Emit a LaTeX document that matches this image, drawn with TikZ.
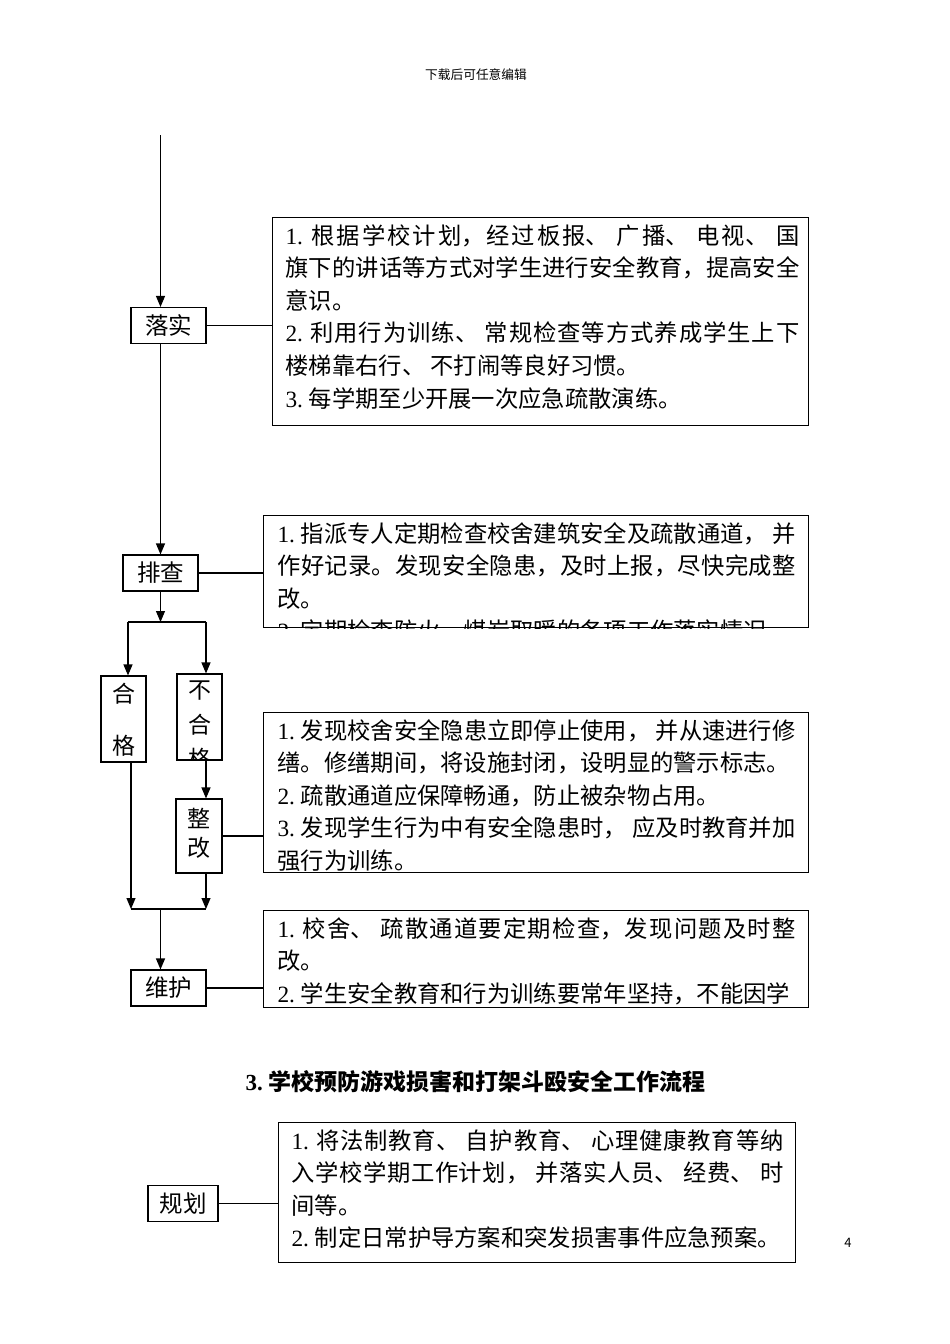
\documentclass[tikz,border=0pt]{standalone}
\usepackage{fontspec}
\setmainfont{Noto Sans CJK SC}
\newfontfamily\numfont{Liberation Serif}
\usetikzlibrary{arrows.meta}
\XeTeXlinebreaklocale "zh"
\XeTeXlinebreakskip=0pt plus 2pt
\newcommand\itemno[1]{\par\noindent{\numfont#1\ }}
\begin{document}
\begin{tikzpicture}[x=1pt,y=-1pt,line width=1.1pt,
    >={Triangle[length=11pt,width=9pt]},
    lbl/.style={draw,inner sep=0pt,minimum width=75pt,minimum height=36pt,
      font=\fontsize{23.5}{24}\selectfont},
    vlbl/.style={draw,inner sep=0pt,minimum width=45pt},
    vchar/.style={inner sep=0pt,font=\fontsize{23}{23}\selectfont},
    infobox/.style={draw,inner sep=0pt,anchor=north west},
    para/.style={inner sep=0pt,anchor=north west,align=justify,
      font=\fontsize{23.3}{32.6}\selectfont}]
  \useasboundingbox (0,0) rectangle (950,1344);
  % page header and number
  \node[font=\fontsize{12.7}{13}\selectfont] (head) at (476,75) {下载后可任意编辑};
  \node[font=\fontsize{13}{13}\selectfont] (pageno) at (848,1243) {4};
  % steps
  \node[lbl] (luoshi) at (168.5,325.5) {落实};
  \node[lbl] (paicha) at (160.5,573) {排查};
  \node[vlbl,minimum height=86pt] (hege) at (123.5,719) {};
  \node[vlbl,minimum height=86pt] (buhege) at (199.5,717) {};
  \node[vlbl,minimum width=46pt,minimum height=74pt] (zhenggai) at (199,836) {};
  \node[lbl] (weihu) at (168.5,988) {维护};
  \node[lbl,minimum width=70pt] (guihua) at (183,1203.5) {规划};
  \node[vchar] (he1) at (123.5,694) {合};
  \node[vchar] (ge1) at (123.5,746) {格};
  \begin{scope}
    \clip (buhege.north west) rectangle (buhege.south east);
    \node[vchar] (bu2) at (199.5,691) {不};
    \node[vchar] (he2) at (199.5,725) {合};
    \node[vchar] (ge2) at (199.5,759) {格};
  \end{scope}
  \node[vchar] (zheng) at (199,818) {整};
  \node[vchar] (gai) at (199,848) {改};
  % text boxes
  \node[infobox,minimum width=536pt,minimum height=208pt] (b1) at (272,217) {};
  \node[infobox,minimum width=545pt,minimum height=112pt] (b2) at (263,515) {};
  \node[infobox,minimum width=545pt,minimum height=160pt] (b3) at (263,712) {};
  \node[infobox,minimum width=545pt,minimum height=97pt] (b4) at (263,910) {};
  \node[infobox,minimum width=517pt,minimum height=140pt] (b5) at (278,1122) {};
  \node[para,text width=514pt] (t1) at (285,211) {%
    \itemno{1.}根据学校计划，经过板报、 广播、 电视、 国\linebreak 旗下的讲话等方式对学生进行安全教育，提高安全\linebreak 意识。%
    \itemno{2.}利用行为训练、 常规检查等方式养成学生上下\linebreak 楼梯靠右行、 不打闹等良好习惯。%
    \itemno{3.}每学期至少开展一次应急疏散演练。};
  \begin{scope}
    \clip (b2.north west) rectangle (b2.south east);
    \node[para,text width=518pt] (t2) at (277,509) {%
      \itemno{1.}指派专人定期检查校舍建筑安全及疏散通道， 并\linebreak 作好记录。发现安全隐患，及时上报，尽快完成整\linebreak 改。%
      \itemno{2.}定期检查防火、煤炭取暖的各项工作落实情况};
  \end{scope}
  \begin{scope}
    \clip (b3.north west) rectangle (b3.south east);
    \node[para,text width=518pt] (t3) at (277,706) {%
      \itemno{1.}发现校舍安全隐患立即停止使用， 并从速进行修\linebreak 缮。修缮期间，将设施封闭，设明显的警示标志。%
      \itemno{2.}疏散通道应保障畅通，防止被杂物占用。%
      \itemno{3.}发现学生行为中有安全隐患时， 应及时教育并加\linebreak 强行为训练。};
  \end{scope}
  \begin{scope}
    \clip (b4.north west) rectangle (b4.south east);
    \node[para,text width=518pt] (t4) at (277,904) {%
      \itemno{1.}校舍、 疏散通道要定期检查，发现问题及时整\linebreak 改。%
      \itemno{2.}学生安全教育和行为训练要常年坚持，不能因学};
  \end{scope}
  \node[para,text width=492pt] (t5) at (291,1116) {%
    \itemno{1.}将法制教育、 自护教育、 心理健康教育等纳\linebreak 入学校学期工作计划， 并落实人员、 经费、 时\linebreak 间等。%
    \itemno{2.}制定日常护导方案和突发损害事件应急预案。};
  \node[font=\bfseries\fontsize{23}{23}\selectfont] (title) at (475.5,1082)
    {{\numfont\bfseries 3.\ }学校预防游戏损害和打架斗殴安全工作流程};
  % connectors
  \coordinate (start) at (160.5,135);
  \coordinate (fork) at (160.5,622);
  \coordinate (fl) at (128,622);
  \coordinate (fr) at (206,622);
  \coordinate (jl) at (131,909);
  \coordinate (jr) at (206,909);
  \coordinate (join) at (160.5,909);
  \draw[->] (start) -- (start |- luoshi.north);
  \draw[->] (start |- luoshi.south) -- (paicha.north);
  \draw (luoshi.east) -- (luoshi.east -| b1.west);
  \draw (paicha.east) -- (paicha.east -| b2.west);
  \draw[->] (paicha.south) -- (fork);
  \draw (fl) -- (fr);
  \draw[->] (fl) -- (fl |- hege.north);
  \draw[->] (fr) -- (fr |- buhege.north);
  \draw[->] (fr |- buhege.south) -- (fr |- zhenggai.north);
  \draw (zhenggai.east) -- (zhenggai.east -| b3.west);
  \draw[->] (jl |- hege.south) -- (jl);
  \draw[->] (jr |- zhenggai.south) -- (jr);
  \draw (jl) -- (jr);
  \draw[->] (join) -- (join |- weihu.north);
  \draw (weihu.east) -- (weihu.east -| b4.west);
  \draw (guihua.east) -- (guihua.east -| b5.west);
\end{tikzpicture}
\end{document}
